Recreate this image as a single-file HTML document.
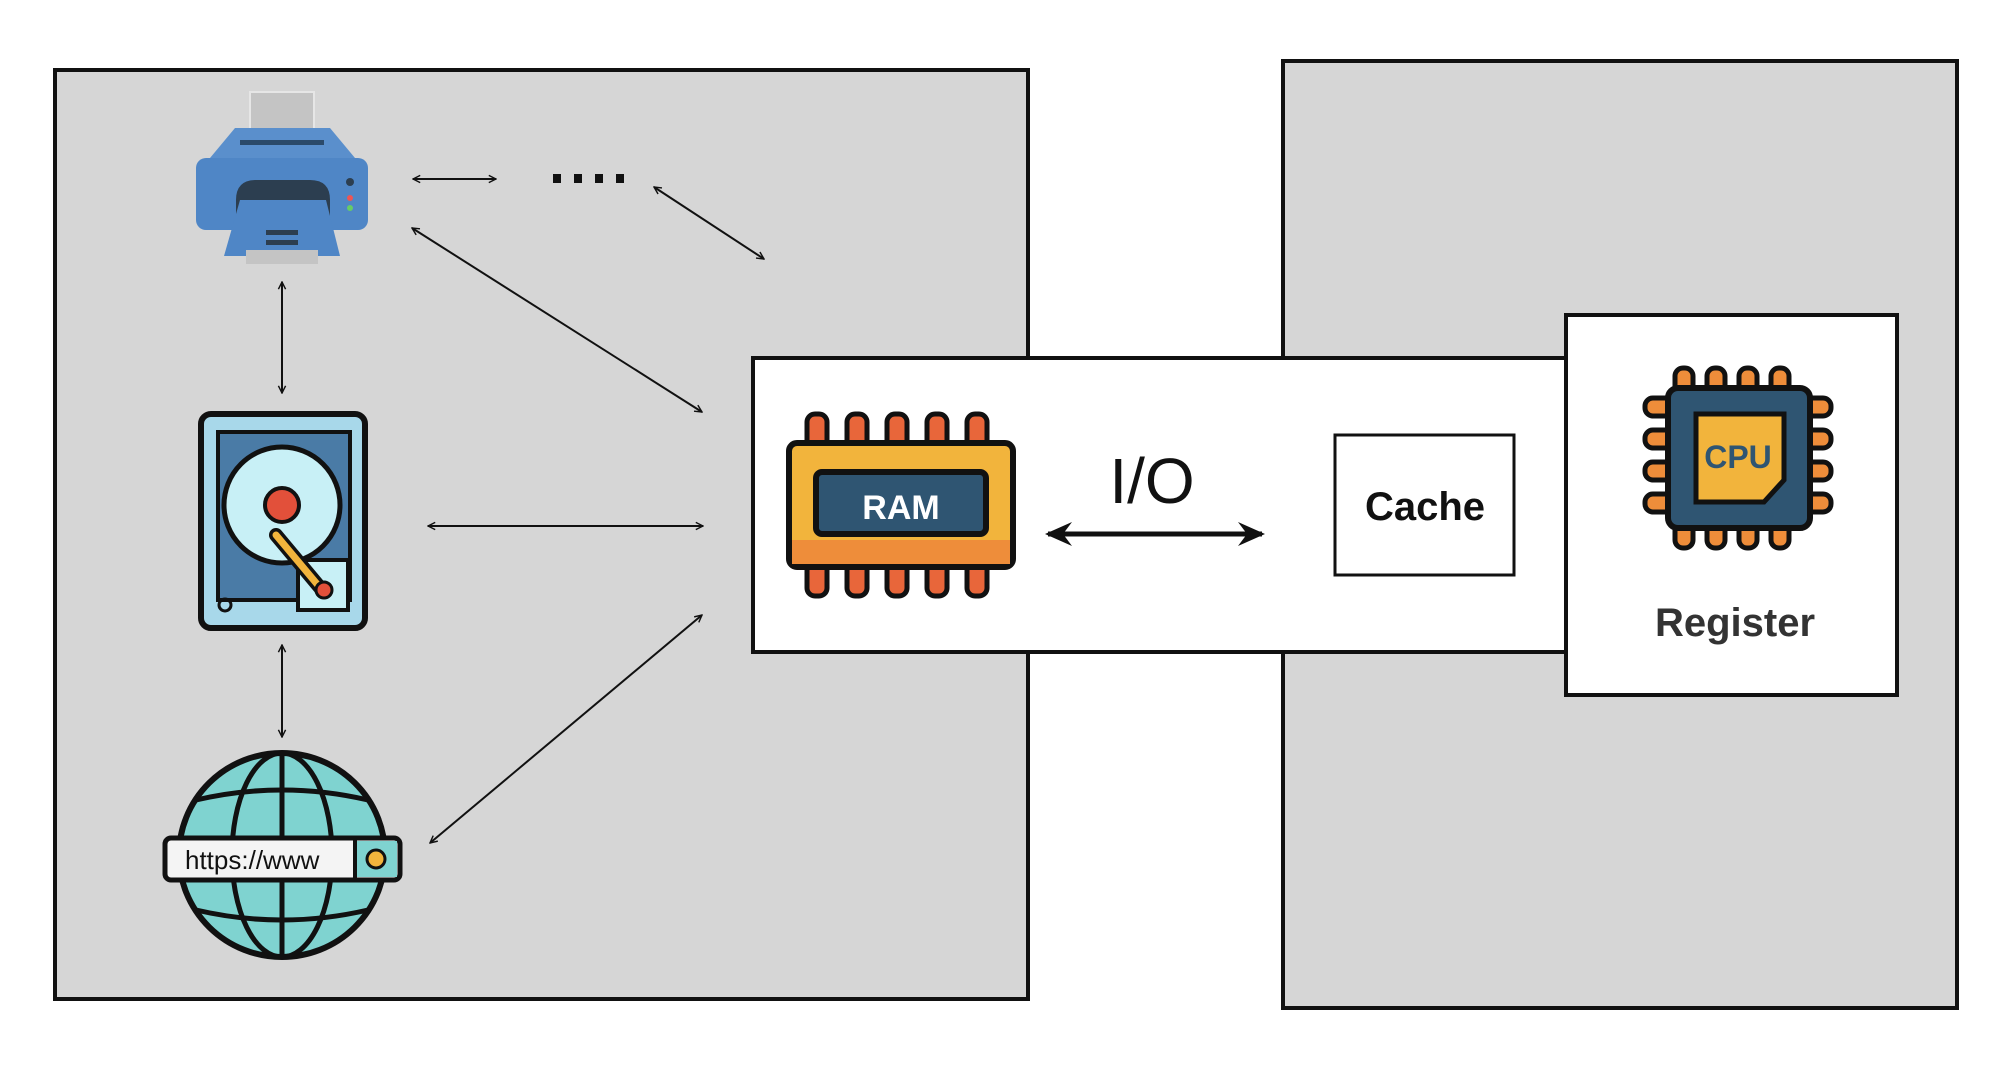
<!DOCTYPE html>
<html><head><meta charset="utf-8"><style>
html,body{margin:0;padding:0;background:#fff;width:2000px;height:1065px;overflow:hidden}
svg{display:block}
text{font-family:"Liberation Sans",sans-serif}
</style></head><body>
<svg width="2000" height="1065" viewBox="0 0 2000 1065" xmlns="http://www.w3.org/2000/svg">
<defs>
<marker id="a" viewBox="0 0 10 10" refX="9" refY="5" markerWidth="9" markerHeight="9" orient="auto-start-reverse" markerUnits="userSpaceOnUse"><path d="M1,1 L9,5 L1,9" fill="none" stroke="#111" stroke-width="1.6"/></marker>
<marker id="b" viewBox="0 0 10 10" refX="8" refY="5" markerWidth="30" markerHeight="30" orient="auto-start-reverse" markerUnits="userSpaceOnUse"><path d="M0,1 L9,5 L0,9 L3,5 Z" fill="#111"/></marker>
</defs>
<rect x="55" y="70" width="973" height="929" fill="#d6d6d6" stroke="#111" stroke-width="4"/>
<rect x="1283" y="61" width="674" height="947" fill="#d6d6d6" stroke="#111" stroke-width="4"/>
<rect x="753" y="358" width="813" height="294" fill="#fff" stroke="#111" stroke-width="4"/>
<rect x="1566" y="315" width="331" height="380" fill="#fff" stroke="#111" stroke-width="4"/>
<rect x="1335" y="435" width="179" height="140" fill="#fff" stroke="#111" stroke-width="3"/>
<text x="1425" y="520" font-size="40" font-weight="bold" text-anchor="middle" fill="#111">Cache</text>
<text x="1152" y="503" font-size="64" text-anchor="middle" fill="#111">I/O</text>
<line x1="1048" y1="534" x2="1262" y2="534" stroke="#111" stroke-width="5" marker-start="url(#b)" marker-end="url(#b)"/>
<text x="1735" y="636" font-size="40" text-anchor="middle" fill="#333" font-weight="bold">Register</text>

<g stroke="#111" stroke-width="2" fill="none">
<line x1="413" y1="179" x2="496" y2="179" marker-start="url(#a)" marker-end="url(#a)"/>
<line x1="654" y1="187" x2="764" y2="259" marker-start="url(#a)" marker-end="url(#a)"/>
<line x1="412" y1="228" x2="702" y2="412" marker-start="url(#a)" marker-end="url(#a)"/>
<line x1="428" y1="526" x2="703" y2="526" marker-start="url(#a)" marker-end="url(#a)"/>
<line x1="430" y1="843" x2="702" y2="615" marker-start="url(#a)" marker-end="url(#a)"/>
<line x1="282" y1="282" x2="282" y2="393" marker-start="url(#a)" marker-end="url(#a)"/>
<line x1="282" y1="645" x2="282" y2="737" marker-start="url(#a)" marker-end="url(#a)"/>
</g>
<g fill="#111"><rect x="553" y="174" width="8" height="9"/><rect x="574" y="174" width="8" height="9"/><rect x="595" y="174" width="8" height="9"/><rect x="616" y="174" width="8" height="9"/></g>

<g>
<rect x="250" y="92" width="64" height="62" fill="#c4c4c4" stroke="#e6e6e6" stroke-width="2"/>
<rect x="196" y="158" width="172" height="72" rx="10" fill="#4f86c6"/>
<path d="M210,158 L235,128 L330,128 L355,158Z" fill="#5a8fcc"/>
<rect x="240" y="140" width="84" height="5" fill="#2b4a6a"/>
<path d="M236,230 V200 Q236,180 256,180 H310 Q330,180 330,200 V230Z" fill="#2c3e50"/>
<path d="M240,200 H326 L340,256 H224Z" fill="#4f86c6"/>
<rect x="246" y="250" width="72" height="14" fill="#c4c4c4"/>
<rect x="266" y="230" width="32" height="5" fill="#2c3e50"/>
<rect x="266" y="240" width="32" height="5" fill="#2c3e50"/>
<circle cx="350" cy="182" r="4" fill="#2c3e50"/>
<circle cx="350" cy="198" r="3" fill="#e55"/>
<circle cx="350" cy="208" r="3" fill="#6c6"/>
</g>

<g>
<rect x="201" y="414" width="164" height="214" rx="10" fill="#a8d8ea" stroke="#111" stroke-width="6"/>
<path d="M218,432 H350 V600 H218Z" fill="#4a7ba6" stroke="#111" stroke-width="4"/>
<circle cx="282" cy="505" r="58" fill="#c8f0f6" stroke="#111" stroke-width="5"/>
<circle cx="282" cy="505" r="17" fill="#e2503a" stroke="#111" stroke-width="4"/>
<rect x="298" y="560" width="50" height="50" fill="#c8f0f6" stroke="#111" stroke-width="4"/>
<line x1="276" y1="535" x2="322" y2="590" stroke="#111" stroke-width="14" stroke-linecap="round"/>
<line x1="276" y1="535" x2="322" y2="590" stroke="#f2b43c" stroke-width="7" stroke-linecap="round"/>
<circle cx="324" cy="590" r="8" fill="#e2503a" stroke="#111" stroke-width="3"/>
<circle cx="225" cy="605" r="6" fill="none" stroke="#111" stroke-width="3"/>
</g>

<g>
<ellipse cx="282" cy="855" rx="103" ry="102" fill="#7fd3d0" stroke="#111" stroke-width="6"/>
<g stroke="#111" stroke-width="5" fill="none">
<ellipse cx="282" cy="855" rx="50" ry="102"/>
<line x1="282" y1="753" x2="282" y2="957"/>
<path d="M196,800 Q282,780 368,800"/>
<path d="M196,910 Q282,930 368,910"/>
</g>
<rect x="165" y="838" width="235" height="42" rx="6" fill="#f4f4f4" stroke="#111" stroke-width="5"/>
<line x1="355" y1="838" x2="355" y2="880" stroke="#111" stroke-width="4"/>
<rect x="357" y="841" width="40" height="36" fill="#7fd3d0"/>
<circle cx="376" cy="859" r="9" fill="#f2b43c" stroke="#111" stroke-width="3"/>
<text x="185" y="869" font-size="26" font-family="Liberation Mono,monospace" fill="#111">https://www</text>
</g>

<g>
<g fill="#e8663a" stroke="#111" stroke-width="5">
<rect x="807" y="414" width="20" height="36" rx="8"/><rect x="847" y="414" width="20" height="36" rx="8"/><rect x="887" y="414" width="20" height="36" rx="8"/><rect x="927" y="414" width="20" height="36" rx="8"/><rect x="967" y="414" width="20" height="36" rx="8"/>
<rect x="807" y="560" width="20" height="36" rx="8"/><rect x="847" y="560" width="20" height="36" rx="8"/><rect x="887" y="560" width="20" height="36" rx="8"/><rect x="927" y="560" width="20" height="36" rx="8"/><rect x="967" y="560" width="20" height="36" rx="8"/>
</g>
<rect x="789" y="443" width="224" height="124" rx="8" fill="#f2b43c" stroke="#111" stroke-width="6"/>
<rect x="792" y="540" width="218" height="24" fill="#ee8d3a"/>
<rect x="816" y="472" width="170" height="62" rx="6" fill="#2f5572" stroke="#111" stroke-width="6"/>
<text x="901" y="519" font-size="34" font-weight="bold" text-anchor="middle" fill="#fff">RAM</text>
</g>

<g>
<g fill="#ee8d3a" stroke="#111" stroke-width="5">
<rect x="1675" y="368" width="18" height="36" rx="8"/><rect x="1707" y="368" width="18" height="36" rx="8"/><rect x="1739" y="368" width="18" height="36" rx="8"/><rect x="1771" y="368" width="18" height="36" rx="8"/>
<rect x="1675" y="512" width="18" height="36" rx="8"/><rect x="1707" y="512" width="18" height="36" rx="8"/><rect x="1739" y="512" width="18" height="36" rx="8"/><rect x="1771" y="512" width="18" height="36" rx="8"/>
<rect x="1645" y="398" width="36" height="18" rx="8"/><rect x="1645" y="430" width="36" height="18" rx="8"/><rect x="1645" y="462" width="36" height="18" rx="8"/><rect x="1645" y="494" width="36" height="18" rx="8"/>
<rect x="1795" y="398" width="36" height="18" rx="8"/><rect x="1795" y="430" width="36" height="18" rx="8"/><rect x="1795" y="462" width="36" height="18" rx="8"/><rect x="1795" y="494" width="36" height="18" rx="8"/>
</g>
<rect x="1668" y="388" width="142" height="140" rx="10" fill="#2f5572" stroke="#111" stroke-width="6"/>
<path d="M1696,414 H1784 V480 L1764,502 H1696Z" fill="#f2b43c" stroke="#111" stroke-width="5"/>
<text x="1738" y="468" font-size="32" font-weight="bold" text-anchor="middle" fill="#2f5572">CPU</text>
</g>
</svg>
</body></html>
